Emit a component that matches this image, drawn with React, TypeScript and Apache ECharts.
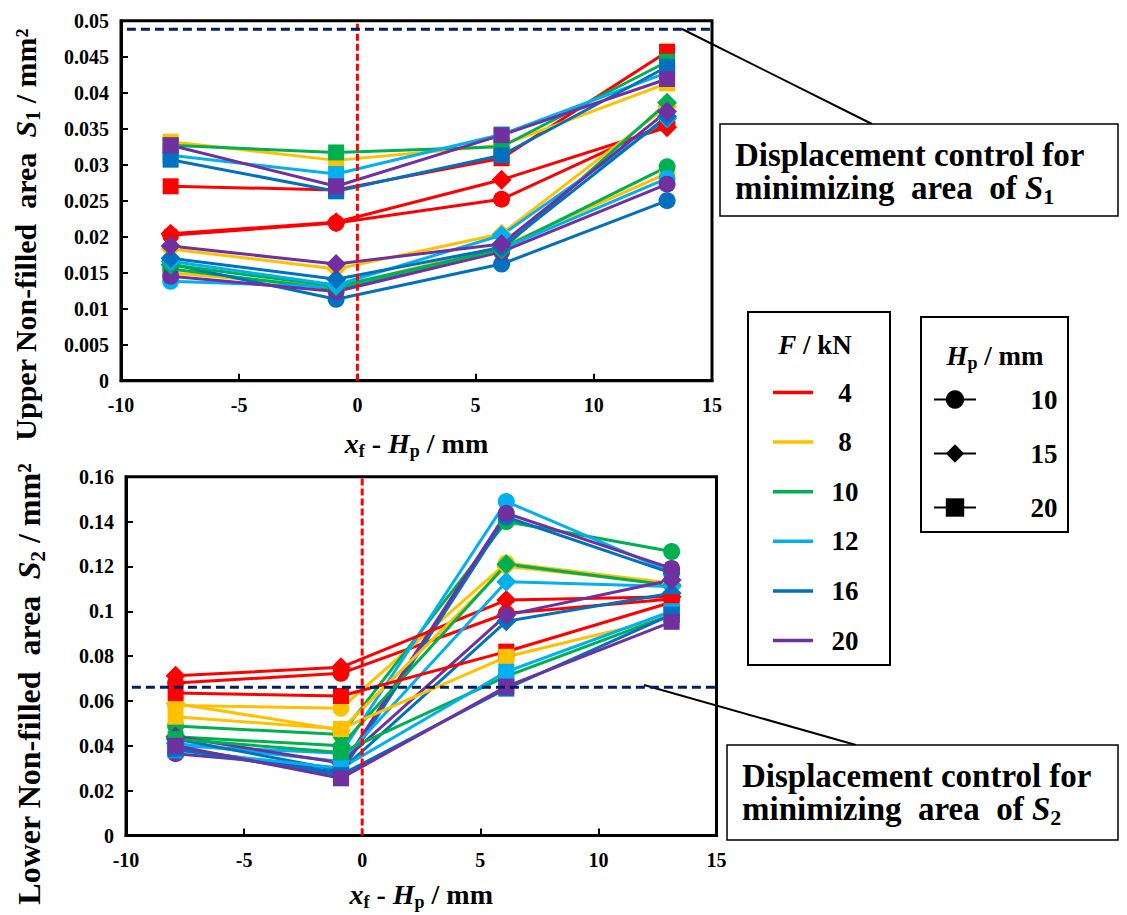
import React, { useEffect, useRef } from 'react';
import * as echarts from 'echarts';

// ---- data ----
const xValues = [-7.9, -0.9, 6.1, 13.1];
const forces = ['4', '8', '10', '12', '16', '20'];
const hps = ['10', '15', '20'];
const forceColors = ['#FF0000', '#FFC000', '#00B050', '#00B0F0', '#0070C0', '#7030A0'];
const hpSymbols = ['circle', 'diamond', 'rect'];
const hpSymbolSizes = [17, 20, 16];

const xTicks = [-10, -5, 0, 5, 10, 15];
const upperYTicks = [0, 0.005, 0.01, 0.015, 0.02, 0.025, 0.03, 0.035, 0.04, 0.045, 0.05];
const lowerYTicks = [0, 0.02, 0.04, 0.06, 0.08, 0.1, 0.12, 0.14, 0.16];

// Upper non-filled area S1 (rows: F = 4, 8, 10, 12, 16, 20)
const upperHp10 = [
  [0.0202, 0.0219, 0.0252, 0.0358],
  [0.0150, 0.0130, 0.0186, 0.0288],
  [0.0155, 0.0127, 0.0183, 0.0297],
  [0.0138, 0.0130, 0.0183, 0.0281],
  [0.0162, 0.0113, 0.0162, 0.0250],
  [0.0145, 0.0124, 0.0179, 0.0273],
];
const upperHp15 = [
  [0.0204, 0.0220, 0.0279, 0.0352],
  [0.0183, 0.0155, 0.0204, 0.0381],
  [0.0161, 0.0131, 0.0182, 0.0386],
  [0.0166, 0.0133, 0.0202, 0.0364],
  [0.0170, 0.0141, 0.0185, 0.0367],
  [0.0187, 0.0162, 0.0190, 0.0374],
];
const upperHp20 = [
  [0.0270, 0.0265, 0.0309, 0.0457],
  [0.0332, 0.0306, 0.0327, 0.0413],
  [0.0327, 0.0317, 0.0325, 0.0443],
  [0.0313, 0.0287, 0.0342, 0.0428],
  [0.0307, 0.0263, 0.0313, 0.0436],
  [0.0327, 0.0270, 0.0341, 0.0419],
];

// Lower non-filled area S2
const lowerHp10 = [
  [0.0680, 0.0723, 0.0990, 0.1055],
  [0.0580, 0.0567, 0.1215, 0.1125],
  [0.0488, 0.0450, 0.1400, 0.1266],
  [0.0400, 0.0367, 0.1489, 0.1175],
  [0.0390, 0.0280, 0.1420, 0.1170],
  [0.0365, 0.0300, 0.1437, 0.1191],
];
const lowerHp15 = [
  [0.0712, 0.0750, 0.1050, 0.1065],
  [0.0589, 0.0470, 0.1200, 0.1120],
  [0.0440, 0.0400, 0.1210, 0.1115],
  [0.0410, 0.0330, 0.1132, 0.1110],
  [0.0430, 0.0290, 0.0955, 0.1080],
  [0.0441, 0.0323, 0.0983, 0.1139],
];
const lowerHp20 = [
  [0.0635, 0.0622, 0.0820, 0.1040],
  [0.0530, 0.0475, 0.0797, 0.0975],
  [0.0430, 0.0370, 0.0710, 0.0985],
  [0.0380, 0.0300, 0.0730, 0.1000],
  [0.0385, 0.0270, 0.0655, 0.0985],
  [0.0400, 0.0255, 0.0664, 0.0953],
];

const upperTarget = 0.0488;
const lowerTarget = 0.0661;
const zeroLine = 0;

// ---- styles ----
const serif = "'Liberation Serif', 'Times New Roman', serif";
const richFor = (size: number) => ({
  t: { fontFamily: serif, fontWeight: 'bold', fontSize: size, color: '#000', lineHeight: size * 1.2 },
  i: { fontFamily: serif, fontWeight: 'bold', fontStyle: 'italic', fontSize: size, color: '#000', lineHeight: size * 1.2 },
  sub: { fontFamily: serif, fontWeight: 'bold', fontSize: Math.round(size * 0.66), color: '#000', verticalAlign: 'bottom', lineHeight: size * 0.5 },
});

const tickFont = { fontFamily: serif, fontWeight: 'bold', fontSize: 20, color: '#000' };

function makeXAxis(gridIndex: number, nameGap: number) {
  return {
    type: 'value',
    gridIndex,
    min: xTicks[0],
    max: xTicks[xTicks.length - 1],
    interval: xTicks[1] - xTicks[0],
    axisLine: { show: true, onZero: false, lineStyle: { color: '#000', width: 3 } },
    axisTick: { show: true, inside: true, length: 7, lineStyle: { color: '#000', width: 2 } },
    axisLabel: { ...tickFont, margin: 14 },
    splitLine: { show: false },
    name: '{i|x}{sub|f}{t| - }{i|H}{sub|p}{t| / mm}',
    nameLocation: 'middle',
    nameGap,
    nameTextStyle: { rich: richFor(28) },
  };
}

function makeYAxis(gridIndex: number, ticks: number[], name: string, size: number, shift: number) {
  return {
    type: 'value',
    gridIndex,
    min: ticks[0],
    max: ticks[ticks.length - 1],
    interval: ticks[1] - ticks[0],
    axisLine: { show: true, onZero: false, lineStyle: { color: '#000', width: 3 } },
    axisTick: { show: true, inside: true, length: 7, lineStyle: { color: '#000', width: 2 } },
    axisLabel: { ...tickFont, margin: 12 },
    splitLine: { show: false },
    name,
    nameLocation: 'middle',
    nameGap: 78,
    nameRotate: 90,
    nameTextStyle: { rich: richFor(size), padding: [0, shift, 0, 0] },
  };
}

function panelSeries(tables: number[][][], gridIndex: number, prefix: string) {
  const out: any[] = [];
  tables.forEach((table, h) => {
    table.forEach((vals, f) => {
      out.push({
        type: 'line',
        name: `${prefix} F${forces[f]} Hp${hps[h]}`,
        xAxisIndex: gridIndex,
        yAxisIndex: gridIndex,
        data: vals.map((v, k) => [xValues[k], v]),
        symbol: hpSymbols[h],
        symbolSize: hpSymbolSizes[h],
        showSymbol: true,
        color: forceColors[f],
        lineStyle: { width: 3, color: forceColors[f] },
        itemStyle: { color: forceColors[f] },
        z: 2,
      });
    });
  });
  return out;
}

function refLines(gridIndex: number, yTicks: number[], target: number) {
  const yMin = yTicks[0];
  const yMax = yTicks[yTicks.length - 1];
  return [
    {
      type: 'line',
      name: `zero${gridIndex}`,
      xAxisIndex: gridIndex,
      yAxisIndex: gridIndex,
      data: [[zeroLine, yMin], [zeroLine, yMax]],
      symbol: 'none',
      silent: true,
      z: 4,
      lineStyle: { color: '#FF0000', type: [7, 3], width: 3 },
    },
    {
      type: 'line',
      name: `target${gridIndex}`,
      xAxisIndex: gridIndex,
      yAxisIndex: gridIndex,
      data: [[xTicks[0] + 0.25, target], [xTicks[xTicks.length - 1], target]],
      symbol: 'none',
      silent: true,
      z: 4,
      lineStyle: { color: '#002060', type: [9, 5], width: 3 },
    },
  ];
}

const forceLegendSeries = forces.map((f, i) => ({
  type: 'line',
  name: 'F' + f,
  data: [],
  color: forceColors[i],
  lineStyle: { width: 3, color: forceColors[i] },
  itemStyle: { color: forceColors[i] },
}));
const hpLegendSeries = hps.map((h, i) => ({
  type: 'line',
  name: 'H' + h,
  data: [],
  symbol: hpSymbols[i],
  color: '#000',
  lineStyle: { width: 3, color: '#000' },
  itemStyle: { color: '#000' },
}));

const legendRich = richFor(27);
const boxRich = richFor(33);

const option: any = {
  animation: false,
  backgroundColor: '#fff',
  grid: [
    { left: 121, top: 20.7, width: 591, height: 360, show: true, borderColor: '#000', borderWidth: 3, containLabel: false },
    { left: 126, top: 476.7, width: 590.5, height: 358.8, show: true, borderColor: '#000', borderWidth: 3, containLabel: false },
  ],
  xAxis: [makeXAxis(0, 46), makeXAxis(1, 42)],
  yAxis: [
    makeYAxis(0, upperYTicks, '{t|Upper Non-filled  area  }{i|S}{sub|1}{t| / mm²}', 30, 68),
    makeYAxis(1, lowerYTicks, '{t|Lower Non-filled  area  }{i|S}{sub|2}{t| / mm²}', 32, 56),
  ],
  legend: [
    {
      data: forces.map((f) => 'F' + f),
      orient: 'vertical',
      left: 773,
      top: 379,
      padding: 0,
      icon: 'rect',
      itemWidth: 40,
      itemHeight: 3.5,
      itemGap: 22.6,
      selectedMode: false,
      formatter: (n: string) => `{c|${n.slice(1)}}`,
      textStyle: {
        rich: { c: { width: 54, align: 'center', fontFamily: serif, fontWeight: 'bold', fontSize: 27, lineHeight: 30, color: '#000' } },
      },
    },
    {
      data: hps.map((h) => 'H' + h),
      orient: 'vertical',
      left: 933,
      top: 386,
      padding: 0,
      itemWidth: 42,
      itemHeight: 23,
      itemGap: 27,
      selectedMode: false,
      formatter: (n: string) => `{c|${n.slice(1)}}`,
      textStyle: {
        rich: { c: { width: 126, align: 'center', fontFamily: serif, fontWeight: 'bold', fontSize: 27, lineHeight: 30, color: '#000' } },
      },
    },
  ],
  series: [
    ...panelSeries([upperHp10, upperHp15, upperHp20], 0, 'S1'),
    ...panelSeries([lowerHp10, lowerHp15, lowerHp20], 1, 'S2'),
    ...refLines(0, upperYTicks, upperTarget),
    ...refLines(1, lowerYTicks, lowerTarget),
    ...forceLegendSeries,
    ...hpLegendSeries,
  ],
  graphic: [
    // legend frames and titles
    { type: 'rect', shape: { x: 748, y: 312, width: 142, height: 353 }, style: { fill: 'none', stroke: '#000', lineWidth: 2 } },
    { type: 'text', style: { x: 815, y: 345, text: '{i|F}{t| / kN}', rich: legendRich, align: 'center', verticalAlign: 'middle' } },
    { type: 'rect', shape: { x: 921, y: 317, width: 147, height: 215 }, style: { fill: 'none', stroke: '#000', lineWidth: 2 } },
    { type: 'text', style: { x: 995, y: 356, text: '{i|H}{sub|p}{t| / mm}', rich: legendRich, align: 'center', verticalAlign: 'middle' } },
    // annotation 1
    { type: 'line', shape: { x1: 682, y1: 29, x2: 872, y2: 124 }, style: { stroke: '#000', lineWidth: 2 } },
    { type: 'rect', shape: { x: 720, y: 124, width: 398, height: 92 }, style: { fill: '#fff', stroke: '#000', lineWidth: 1.5 } },
    { type: 'text', style: { x: 735, y: 155, text: '{t|Displacement control for}', rich: boxRich, align: 'left', verticalAlign: 'middle' } },
    { type: 'text', style: { x: 735, y: 188, text: '{t|minimizing  area  of }{i|S}{sub|1}', rich: boxRich, align: 'left', verticalAlign: 'middle' } },
    // annotation 2
    { type: 'line', shape: { x1: 644, y1: 685, x2: 856, y2: 745 }, style: { stroke: '#000', lineWidth: 2 } },
    { type: 'rect', shape: { x: 727, y: 745, width: 391, height: 95 }, style: { fill: '#fff', stroke: '#000', lineWidth: 1.5 } },
    { type: 'text', style: { x: 742, y: 776, text: '{t|Displacement control for}', rich: boxRich, align: 'left', verticalAlign: 'middle' } },
    { type: 'text', style: { x: 742, y: 809, text: '{t|minimizing  area  of }{i|S}{sub|2}', rich: boxRich, align: 'left', verticalAlign: 'middle' } },
  ],
};

export default function App() {
  const ref = useRef<HTMLDivElement>(null);
  useEffect(() => {
    const chart = echarts.init(ref.current!, null, { renderer: 'svg' });
    chart.setOption(option);
    return () => chart.dispose();
  }, []);
  return (
    <div
      ref={ref}
      style={{ position: 'fixed', left: 0, top: 0, width: 1127, height: 915, background: '#fff' }}
    />
  );
}
